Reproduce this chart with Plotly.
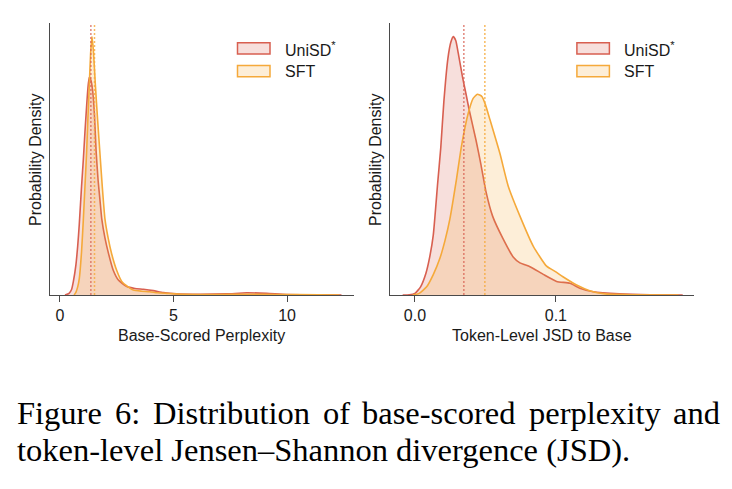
import plotly.graph_objects as go

W, H = 732, 489

# ---------------- data ----------------
# Left panel: base-scored perplexity, KDE curves (relative density)
ppl_x_unisd = [0.22, 0.40, 0.51, 0.59, 0.70, 0.78, 0.85, 0.95, 1.03, 1.10, 1.17, 1.23, 1.29,
               1.36, 1.44, 1.52, 1.59, 1.68, 1.76, 1.84, 1.98, 2.13, 2.35, 2.57, 2.94, 3.30,
               3.67, 4.11, 4.55, 5.14, 6.17, 7.34, 8.22, 9.10, 9.99, 11.2, 12.4]
ppl_y_unisd = [0.0, 0.006, 0.02, 0.05, 0.11, 0.18, 0.26, 0.40, 0.50, 0.60, 0.69, 0.76, 0.80,
               0.79, 0.75, 0.66, 0.53, 0.42, 0.35, 0.28, 0.21, 0.155, 0.09, 0.055, 0.031, 0.024,
               0.021, 0.016, 0.009, 0.004, 0.0025, 0.004, 0.008, 0.006, 0.002, 0.0005, 0.0]
ppl_x_sft = [0.62, 0.70, 0.78, 0.85, 0.95, 1.03, 1.10, 1.17, 1.23, 1.29, 1.35, 1.41, 1.47,
             1.56, 1.66, 1.76, 1.87, 1.98, 2.12, 2.28, 2.50, 2.72, 3.00, 3.23, 3.60, 3.96,
             4.30, 4.70, 5.43, 6.90, 8.37, 9.50, 11.4, 12.3]
ppl_y_sft = [0.0, 0.01, 0.03, 0.06, 0.16, 0.28, 0.40, 0.52, 0.65, 0.77, 0.89, 0.95, 0.90,
             0.77, 0.64, 0.52, 0.39, 0.28, 0.21, 0.15, 0.09, 0.05, 0.03, 0.018, 0.014, 0.012,
             0.008, 0.006, 0.0025, 0.002, 0.003, 0.002, 0.0005, 0.0]
ppl_mean_unisd = 1.36
ppl_mean_sft = 1.52

# Right panel: token-level JSD to base, KDE curves (relative density)
jsd_x_unisd = [-0.0087, -0.004, 0.0, 0.004, 0.0078, 0.0105, 0.013, 0.0161, 0.0183, 0.0205,
               0.0234, 0.0255, 0.0272, 0.0290, 0.0307, 0.0338, 0.0362, 0.0385, 0.0433, 0.0468,
               0.0504, 0.0551, 0.0622, 0.0697, 0.0745, 0.0816, 0.0910, 0.1005, 0.1100, 0.1170,
               0.1265, 0.1450, 0.1670, 0.1900]
jsd_y_unisd = [0.0, 0.001, 0.006, 0.03, 0.08, 0.14, 0.22, 0.41, 0.54, 0.71,
               0.87, 0.93, 0.95, 0.935, 0.89, 0.80, 0.74, 0.68, 0.57, 0.48,
               0.38, 0.29, 0.21, 0.14, 0.118, 0.104, 0.076, 0.05, 0.043, 0.025,
               0.012, 0.004, 0.0005, 0.0]
jsd_x_sft = [-0.0016, 0.003, 0.0083, 0.013, 0.0177, 0.0213, 0.0248, 0.0296, 0.0331, 0.0378,
             0.0413, 0.0443, 0.0475, 0.0500, 0.0532, 0.0603, 0.0662, 0.0745, 0.0839, 0.0934,
             0.1000, 0.1050, 0.1147, 0.1240, 0.1350, 0.1540, 0.1870]
jsd_y_sft = [0.0, 0.006, 0.03, 0.075, 0.135, 0.20, 0.28, 0.43, 0.55, 0.668,
             0.723, 0.738, 0.73, 0.70, 0.645, 0.52, 0.40, 0.29, 0.18, 0.106,
             0.085, 0.067, 0.037, 0.016, 0.004, 0.001, 0.0]
jsd_mean_unisd = 0.0347
jsd_mean_sft = 0.0496

series_names = ["UniSD<sup>*</sup>", "SFT"]
x_titles = ["Base-Scored Perplexity", "Token-Level JSD to Base"]
y_title = "Probability Density"
ppl_ticks = [0, 5, 10]
jsd_ticks = [0.0, 0.1]
caption_line1 = ["Figure", "6:", "Distribution", "of", "base-scored", "perplexity", "and"]
caption_line2 = "token-level Jensen\u2013Shannon divergence (JSD)."

# ---------------- style ----------------
RED = "#D85F50"
ORANGE = "#F5A93A"
RED_FILL = "rgba(216,95,80,0.2)"
OR_FILL = "rgba(245,169,58,0.2)"
AXC = "#4a4a4a"
SANS = "Liberation Sans, Arial, sans-serif"
SERIF = "Liberation Serif, Times New Roman, serif"


def px(x):
    return x / W


def py(y):
    return 1 - y / H


fig = go.Figure()

panels = [
    ("x", "y", ppl_x_unisd, ppl_y_unisd, ppl_x_sft, ppl_y_sft, ppl_mean_unisd, ppl_mean_sft),
    ("x2", "y2", jsd_x_unisd, jsd_y_unisd, jsd_x_sft, jsd_y_sft, jsd_mean_unisd, jsd_mean_sft),
]
for xa, ya, xu, yu, xs, ys, mu, ms in panels:
    fig.add_trace(go.Scatter(x=xu, y=yu, mode="lines", fill="tozeroy", fillcolor=RED_FILL,
                             line=dict(color=RED, width=1.6, shape="spline", smoothing=0.5),
                             xaxis=xa, yaxis=ya, showlegend=False, hoverinfo="skip"))
    fig.add_trace(go.Scatter(x=xs, y=ys, mode="lines", fill="tozeroy", fillcolor=OR_FILL,
                             line=dict(color=ORANGE, width=1.6, shape="spline", smoothing=0.5),
                             xaxis=xa, yaxis=ya, showlegend=False, hoverinfo="skip"))
    for m, c in ((mu, "rgba(216,95,80,0.75)"), (ms, "rgba(245,169,58,0.8)")):
        fig.add_shape(type="line", xref=xa, yref=ya + " domain", x0=m, x1=m, y0=0, y1=1,
                      line=dict(color=c, width=1.5, dash="2px,2px"), layer="above")

ydom = [py(295), py(23)]
axis_common = dict(showline=True, linecolor=AXC, linewidth=1.25, ticks="outside",
                   ticklen=6, tickwidth=1.25, tickcolor=AXC, showgrid=False, zeroline=False,
                   tickfont=dict(family=SANS, size=16, color="#1a1a1a"))
yaxis_common = dict(showline=True, linecolor=AXC, linewidth=1.25, showticklabels=False,
                    ticks="", showgrid=False, zeroline=False, range=[0, 1.0], domain=ydom)

fig.update_layout(
    width=W, height=H, margin=dict(l=0, r=0, t=0, b=0),
    paper_bgcolor="white", plot_bgcolor="white",
    xaxis=dict(domain=[px(50), px(354)], range=[-0.44, 12.95], tickvals=ppl_ticks,
               anchor="y", **axis_common),
    xaxis2=dict(domain=[px(390), px(694)], range=[-0.0177, 0.198], tickvals=jsd_ticks,
                tickformat=".1f", anchor="y2", **axis_common),
    yaxis=dict(anchor="x", **yaxis_common),
    yaxis2=dict(anchor="x2", **yaxis_common),
)

ann = []
# axis titles
for cx, t in ((202, x_titles[0]), (542, x_titles[1])):
    ann.append(dict(x=px(cx), y=py(335), xref="paper", yref="paper", text=t, showarrow=False,
                    xanchor="center", yanchor="middle",
                    font=dict(family=SANS, size=16, color="#1a1a1a")))
for cx in (36, 376):
    ann.append(dict(x=px(cx), y=py(160), xref="paper", yref="paper", text=y_title,
                    showarrow=False, textangle=-90, xanchor="center", yanchor="middle",
                    font=dict(family=SANS, size=16, color="#1a1a1a")))

# legends (one per panel)
for off in (0, 339.4):
    for i, (name, lc, fc) in enumerate(((series_names[0], RED, RED_FILL),
                                        (series_names[1], ORANGE, OR_FILL))):
        y0 = 42.7 + i * 22.8
        fig.add_shape(type="rect", xref="paper", yref="paper",
                      x0=px(237.5 + off), x1=px(270 + off), y0=py(y0 + 11.3), y1=py(y0),
                      line=dict(color=lc, width=1.5), fillcolor=fc)
        ann.append(dict(x=px(283 + off), y=py(y0 + 6), xref="paper", yref="paper",
                        text=name, showarrow=False, xanchor="left", yanchor="middle",
                        font=dict(family=SANS, size=16, color="#1a1a1a")))

# caption (first line justified word by word)
word_x = [15, 112.7, 150.7, 320.6, 360.4, 526.6, 671.1]
for wx, wd in zip(word_x, caption_line1):
    ann.append(dict(x=px(wx), y=py(413), xref="paper", yref="paper", text=wd,
                    showarrow=False, xanchor="left", yanchor="middle",
                    font=dict(family=SERIF, size=32.5, color="black")))
ann.append(dict(x=px(15), y=py(450), xref="paper", yref="paper", text=caption_line2,
                showarrow=False, xanchor="left", yanchor="middle",
                font=dict(family=SERIF, size=32.5, color="black")))

fig.update_layout(annotations=ann)
fig.write_html("out.html")
